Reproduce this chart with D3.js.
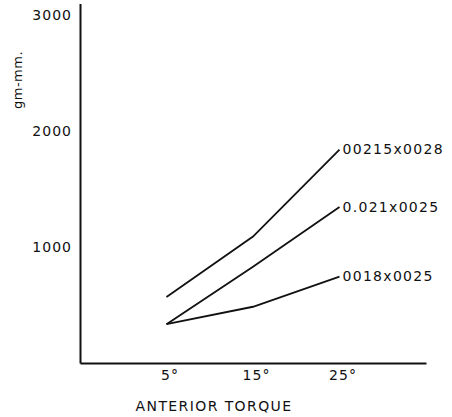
<!DOCTYPE html>
<html>
<head>
<meta charset="utf-8">
<script src="https://cdn.jsdelivr.net/npm/d3@7"></script>
<style>
  body { margin: 0; background: #fff; }
  text { font-family: "DejaVu Sans", sans-serif; fill: #111; }
</style>
</head>
<body>
<div id="canvas"></div>
<script>
// torque angles and series
var angles = [5, 15, 25];
var wire1 = [570, 1090, 1840]; // 00215x0028
var wire2 = [335, 830, 1345];  // 0.021x0025
var wire3 = [335, 485, 745];   // 0018x0025
var seriesNames = ["00215x0028", "0.021x0025", "0018x0025"];
var yTicks = [1000, 2000, 3000];

var width = 452, height = 417;

var svg = d3.select("#canvas").append("svg")
  .attr("width", width)
  .attr("height", height);

var xScale = d3.scaleLinear().domain([-5, 35]).range([80, 426]);
var yScale = d3.scaleLinear().domain([0, 3100]).range([363, 3.5]);

// y axis
var y_axis = d3.axisLeft(yScale).tickValues(yTicks).tickSize(0).tickPadding(8)
  .tickFormat(d3.format("d"));
var gy = svg.append("g").attr("transform", "translate(" + xScale(-5) + ",0)").call(y_axis);
gy.select(".domain").attr("stroke", "#111").attr("stroke-width", 2);
gy.selectAll("text").style("font-size", "14px").style("letter-spacing", "1px")
  .attr("font-family", null);

// x axis
var x_axis = d3.axisBottom(xScale).tickValues(angles).tickSize(0).tickPadding(7)
  .tickFormat((d) => d + "°");
var gx = svg.append("g").attr("transform", "translate(0," + yScale(0) + ")").call(x_axis);
gx.select(".domain").attr("stroke", "#111").attr("stroke-width", 2);
gx.selectAll("text").style("font-size", "14px").style("letter-spacing", "1px")
  .attr("font-family", null).attr("dx", 3);

// axis titles
svg.append("text")
  .attr("transform", "translate(22,80) rotate(-90)")
  .attr("text-anchor", "middle")
  .style("font-size", "13px")
  .style("letter-spacing", "0.5px")
  .text("gm-mm.");

svg.append("text")
  .attr("x", 214)
  .attr("y", 411)
  .attr("text-anchor", "middle")
  .style("font-size", "14px")
  .style("letter-spacing", "1.4px")
  .text("ANTERIOR TORQUE");

// lines
var line = d3.line()
  .x((d, i) => xScale(angles[i]))
  .y((d) => yScale(d));

var allSeries = [wire1, wire2, wire3];

svg.selectAll(".series")
  .data(allSeries)
  .enter()
  .append("path")
  .attr("class", "series")
  .attr("d", (d) => line(d))
  .attr("fill", "none")
  .attr("stroke", "#111")
  .attr("stroke-width", 1.8);

svg.selectAll(".label")
  .data(allSeries)
  .enter()
  .append("text")
  .attr("class", "label")
  .attr("x", xScale(25) + 3)
  .attr("y", (d) => yScale(d[d.length - 1]))
  .attr("dy", "0.32em")
  .style("font-size", "14px")
  .style("letter-spacing", "1.3px")
  .text((d, i) => seriesNames[i]);
</script>
</body>
</html>
